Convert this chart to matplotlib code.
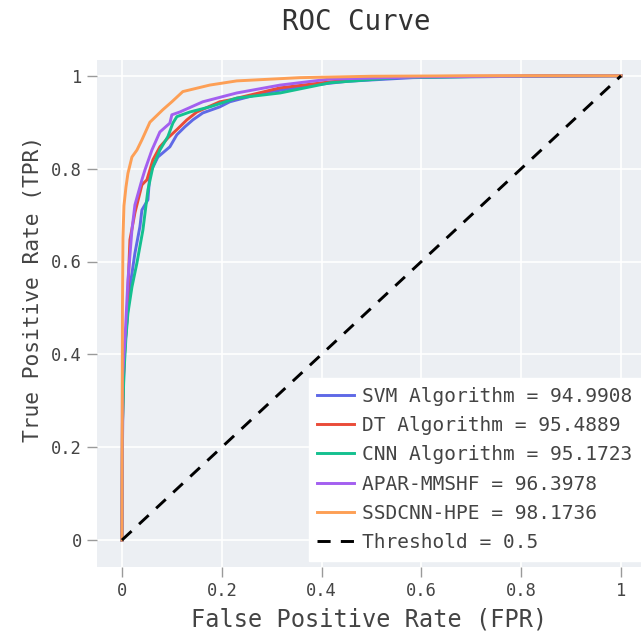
import matplotlib
matplotlib.use("Agg")
import matplotlib.pyplot as plt

plt.rcParams['font.family'] = ['DejaVu Sans Mono']

labels = ["SVM Algorithm = 94.9908", "DT Algorithm = 95.4889", "CNN Algorithm = 95.1723",
          "APAR-MMSHF = 96.3978", "SSDCNN-HPE = 98.1736"]
colors = ["#5f69e6", "#ea4b38", "#14c08f", "#a35ff0", "#fd9f55"]

svm_fpr = [0, 0.001, 0.002, 0.005, 0.01, 0.016, 0.026, 0.036, 0.04, 0.052, 0.056, 0.072, 0.096, 0.11, 0.126, 0.142, 0.162, 0.196, 0.216, 0.283, 0.383, 0.45, 0.583, 0.7, 0.85, 1.0]
svm_tpr = [0, 0.2, 0.3, 0.4, 0.474, 0.545, 0.618, 0.675, 0.711, 0.733, 0.79, 0.825, 0.847, 0.873, 0.89, 0.905, 0.92, 0.933, 0.944, 0.963, 0.98, 0.988, 0.996, 0.998, 0.999, 1.0]

dt_fpr = [0, 0.001, 0.003, 0.006, 0.01, 0.012, 0.016, 0.026, 0.04, 0.05, 0.062, 0.076, 0.092, 0.11, 0.13, 0.15, 0.196, 0.216, 0.317, 0.417, 0.55, 0.7, 0.85, 1.0]
dt_tpr = [0, 0.25, 0.35, 0.42, 0.474, 0.539, 0.647, 0.705, 0.765, 0.776, 0.819, 0.847, 0.866, 0.884, 0.905, 0.922, 0.944, 0.948, 0.974, 0.987, 0.998, 0.999, 1.0, 1.0]

cnn_fpr = [0, 0.001, 0.004, 0.008, 0.012, 0.02, 0.03, 0.042, 0.052, 0.062, 0.076, 0.092, 0.102, 0.11, 0.136, 0.176, 0.23, 0.317, 0.417, 0.55, 0.7, 0.85, 1.0]
cnn_tpr = [0, 0.25, 0.36, 0.437, 0.489, 0.545, 0.597, 0.668, 0.754, 0.804, 0.84, 0.869, 0.898, 0.912, 0.922, 0.933, 0.952, 0.963, 0.985, 0.996, 0.998, 0.999, 1.0]

apar_fpr = [0, 0.001, 0.006, 0.012, 0.02, 0.026, 0.04, 0.046, 0.06, 0.076, 0.096, 0.1, 0.116, 0.162, 0.23, 0.317, 0.417, 0.617, 0.8, 1.0]
apar_tpr = [0, 0.35, 0.43, 0.56, 0.668, 0.722, 0.776, 0.797, 0.84, 0.879, 0.898, 0.916, 0.922, 0.944, 0.963, 0.98, 0.993, 0.998, 0.999, 1.0]

ssd_fpr = [0, 0.001, 0.002, 0.004, 0.008, 0.012, 0.02, 0.03, 0.04, 0.056, 0.082, 0.1, 0.122, 0.176, 0.23, 0.357, 0.5, 0.7, 1.0]
ssd_tpr = [0, 0.5, 0.65, 0.72, 0.76, 0.79, 0.825, 0.84, 0.862, 0.9, 0.927, 0.944, 0.966, 0.98, 0.989, 0.996, 0.999, 1.0, 1.0]

fprs = [svm_fpr, dt_fpr, cnn_fpr, apar_fpr, ssd_fpr]
tprs = [svm_tpr, dt_tpr, cnn_tpr, apar_tpr, ssd_tpr]

thr_x = [0, 1]
thr_y = [0, 1]

xticks = [0, 0.2, 0.4, 0.6, 0.8, 1]
xticklabels = ["0", "0.2", "0.4", "0.6", "0.8", "1"]

fig = plt.figure(figsize=(6.41, 6.37), dpi=100)
ax = fig.add_axes([97/641, 1-567/637, 1-97/641, (567-60)/637])
ax.set_facecolor("#eceff3")
for s in ax.spines.values():
    s.set_visible(False)

for fx, ty, c, l in zip(fprs, tprs, colors, labels):
    ax.plot(fx, ty, color=c, lw=2.1, label=l)
ax.plot(thr_x, thr_y, color="black", lw=2.1, ls=(0, (4.5, 3.5)), label="Threshold = 0.5")

ax.set_xlim(-0.05, 1.04)
ax.set_ylim(-0.058, 1.034)
ax.set_xticks(xticks)
ax.set_xticklabels(xticklabels)
ax.set_yticks(xticks)
ax.set_yticklabels(xticklabels)
ax.grid(True, color="white", lw=1.2)
ax.set_axisbelow(True)
ax.tick_params(axis='both', labelcolor="#444444", labelsize=12.3, length=7, width=1,
               color="#9a9a9a", pad=4)

ax.set_xlabel("False Positive Rate (FPR)", fontsize=17, color="#444444", labelpad=5)
ax.set_ylabel("True Positive Rate (TPR)", fontsize=15.3, color="#444444")
ax.yaxis.set_label_coords(-(97 - 43) / (641 - 97), (567 - 289) / (567 - 60))
fig.text(356/641, 1-22/637, "ROC Curve", fontsize=19.8, color="#333333", ha="center", va="center")

leg = ax.legend(loc="lower right", bbox_to_anchor=(1.0, 0.012), fontsize=14, frameon=True,
                fancybox=False, framealpha=1, edgecolor="white", facecolor="white",
                handlelength=1.9, handletextpad=0.4, labelspacing=0.53, borderpad=0.45,
                borderaxespad=0)
for t in leg.get_texts():
    t.set_color("#444444")

fig.savefig("out.png", dpi=100)
